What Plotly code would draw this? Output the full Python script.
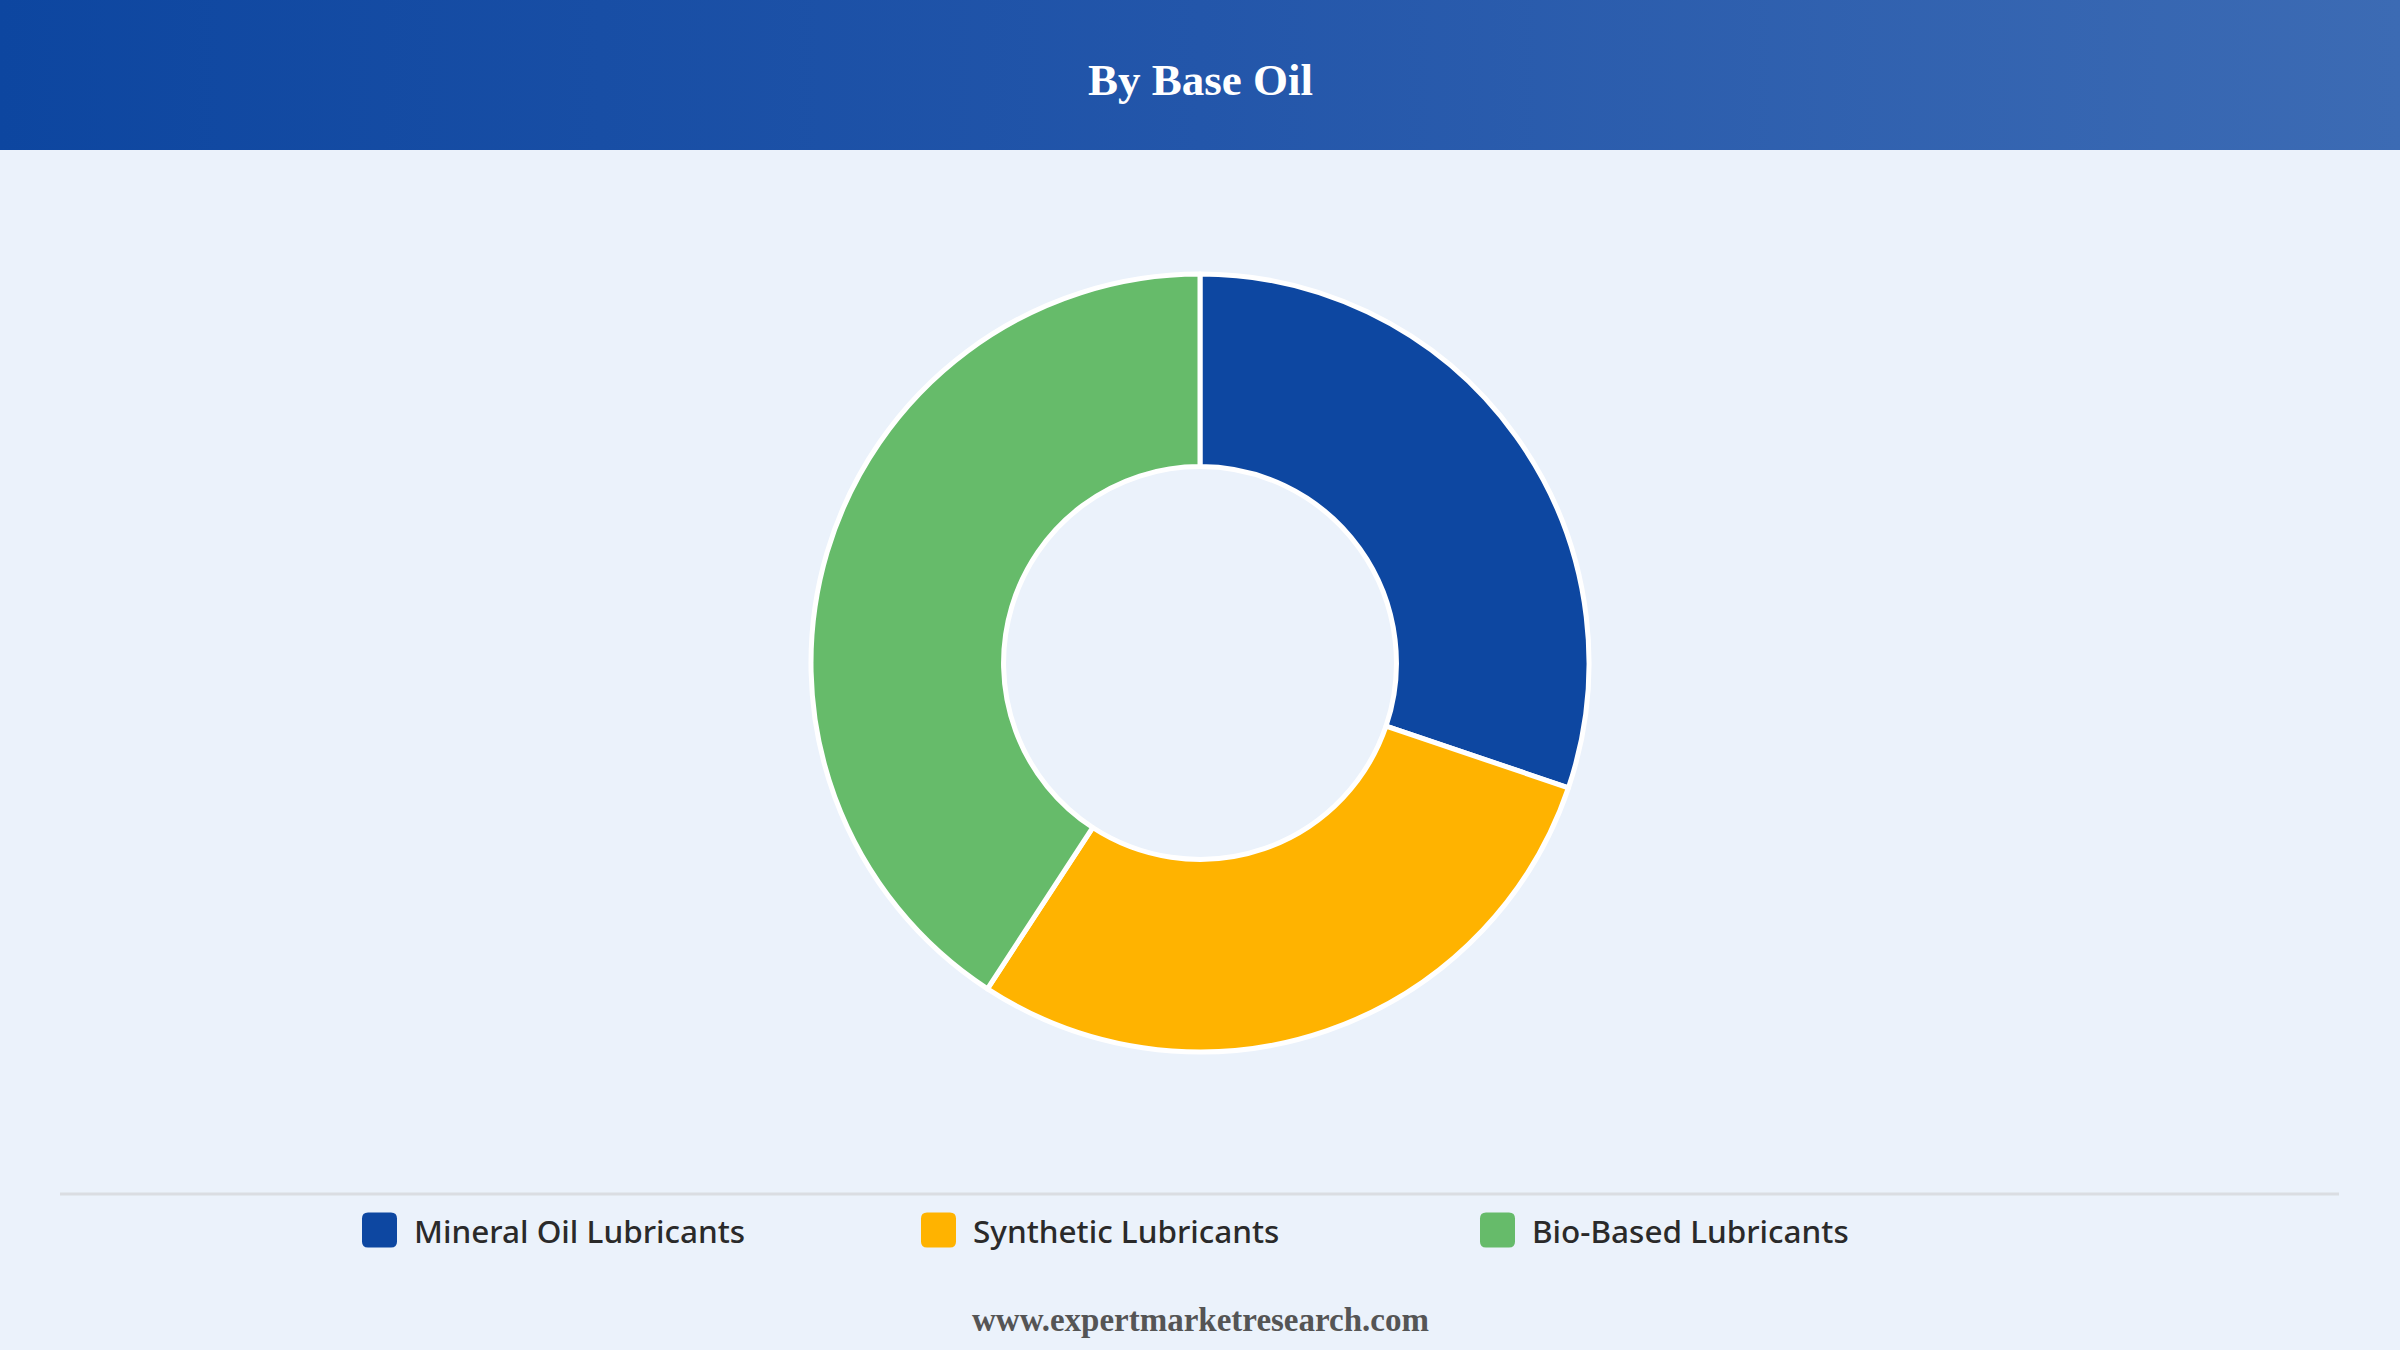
import plotly.graph_objects as go

# ---- data ----
categories = ["Mineral Oil Lubricants", "Synthetic Lubricants", "Bio-Based Lubricants"]
shares = [30.2, 29.0, 40.8]
colors = ["#0D47A1", "#FFB300", "#66BB6A"]
title_text = "By Base Oil"
footer_text = "www.expertmarketresearch.com"

W, H = 2400, 1350
BG = "#EBF2FB"

fig = go.Figure()

# header band with horizontal gradient
hdr = 150 / H
fig.add_trace(go.Scatter(
    x=[0, 1, 1, 0, 0], y=[1, 1, 1 - hdr, 1 - hdr, 1],
    mode="none", fill="toself",
    fillgradient=dict(type="horizontal",
                      colorscale=[[0, "#0D46A0"], [0.5, "#2356AA"], [1, "#3C6BB4"]]),
    hoverinfo="skip", showlegend=False,
))

# donut
cy, r = 663, 389
fig.add_trace(go.Pie(
    labels=categories, values=shares,
    marker=dict(colors=colors, line=dict(color="white", width=5)),
    hole=0.505, sort=False, direction="clockwise", rotation=0,
    textinfo="none", showlegend=False,
    domain=dict(x=[0.25, 0.75], y=[1 - (cy + r) / H, 1 - (cy - r) / H]),
))

fig.update_layout(
    width=W, height=H,
    margin=dict(l=0, r=0, t=0, b=0),
    paper_bgcolor=BG, plot_bgcolor=BG,
    xaxis=dict(range=[0, 1], visible=False, fixedrange=True, domain=[0, 1]),
    yaxis=dict(range=[0, 1], visible=False, fixedrange=True, domain=[0, 1]),
    showlegend=False,
)

shapes = []
annotations = []

# title
annotations.append(dict(
    text=f"<b>{title_text}</b>", x=0.5, y=1 - 80 / H, xref="paper", yref="paper",
    xanchor="center", yanchor="middle", showarrow=False,
    font=dict(family="Liberation Serif", size=45, color="white"),
))

# separator line
shapes.append(dict(type="line", xref="paper", yref="paper",
                   x0=60 / W, x1=2339 / W, y0=1 - 1194 / H, y1=1 - 1194 / H,
                   line=dict(color="#DADDE2", width=3)))

# custom legend
leg_x0 = 362
leg_step = 559
sq = 35
leg_cy = 1230
rad = 6


def px(x):
    return x / W


def py(y):
    return 1 - y / H


for i, (name, col) in enumerate(zip(categories, colors)):
    x0 = leg_x0 + i * leg_step
    x1 = x0 + sq
    y0 = leg_cy - sq / 2
    y1 = leg_cy + sq / 2
    path = (f"M {px(x0 + rad)},{py(y0)} L {px(x1 - rad)},{py(y0)} "
            f"Q {px(x1)},{py(y0)} {px(x1)},{py(y0 + rad)} "
            f"L {px(x1)},{py(y1 - rad)} Q {px(x1)},{py(y1)} {px(x1 - rad)},{py(y1)} "
            f"L {px(x0 + rad)},{py(y1)} Q {px(x0)},{py(y1)} {px(x0)},{py(y1 - rad)} "
            f"L {px(x0)},{py(y0 + rad)} Q {px(x0)},{py(y0)} {px(x0 + rad)},{py(y0)} Z")
    shapes.append(dict(type="path", xref="paper", yref="paper", path=path,
                       fillcolor=col, line=dict(width=0)))
    annotations.append(dict(
        text=name, x=(x0 + 50) / W, y=1 - leg_cy / H, xref="paper", yref="paper",
        xanchor="left", yanchor="middle", showarrow=False,
        font=dict(family="Noto Sans", size=31.5, color="#2A2A2A", weight=500),
    ))

# footer
annotations.append(dict(
    text=f"<b>{footer_text}</b>", x=0.5, y=1 - 1320 / H, xref="paper", yref="paper",
    xanchor="center", yanchor="middle", showarrow=False,
    font=dict(family="Liberation Serif", size=33, color="#555555"),
))

fig.update_layout(shapes=shapes, annotations=annotations)

fig.write_html("out.html", config=dict(displayModeBar=False))
